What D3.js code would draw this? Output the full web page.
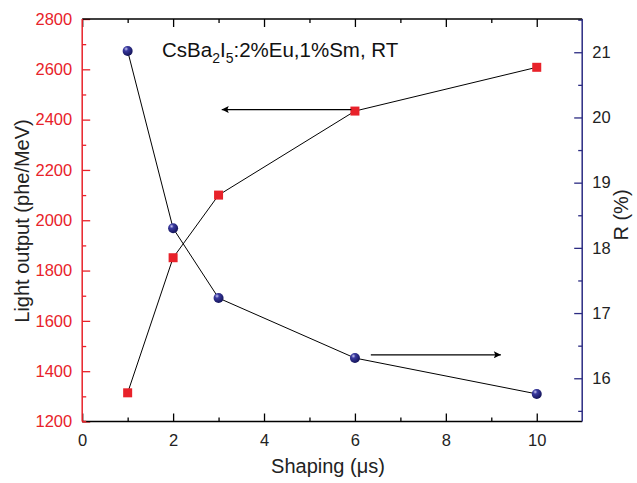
<!DOCTYPE html>
<html><head><meta charset="utf-8">
<script src="https://cdn.jsdelivr.net/npm/d3@7"></script>
<style>body{margin:0;background:#fff}svg{display:block}text{font-family:Arial,"Liberation Sans",sans-serif}</style>
</head><body><svg id="c" width="637" height="483"></svg>
<script>
const shaping = [1, 2, 3, 6, 10];
const lightOutput = [1314, 1851, 2100, 2434, 2608];
const resolution = [21.02, 18.30, 17.23, 16.31, 15.76];
const xTicks = [0, 2, 4, 6, 8, 10];
const xMinor = [1, 3, 5, 7, 9];
const yLTicks = [1200, 1400, 1600, 1800, 2000, 2200, 2400, 2600, 2800];
const yLMinor = [1300, 1500, 1700, 1900, 2100, 2300, 2500, 2700];
const yRTicks = [16, 17, 18, 19, 20, 21];
const yRMinor = [15.5, 16.5, 17.5, 18.5, 19.5, 20.5, 21.5];
const arrowLeft = {x1: 5.92, x2: 3.07, y: 2440};
const arrowRight = {x1: 6.35, x2: 9.21, y: 16.36};

const svg = d3.select('#c');
const L = 82.2, R = 582.2, T = 19, B = 421.5;
const red = '#e8222a', navy = '#2b2b82';
const x = d3.scaleLinear().domain([0, 11]).range([L, R]);
const yL = d3.scaleLinear().domain([1200, 2800]).range([B, T]);
const yR = d3.scaleLinear().domain([15.337, 21.51]).range([B, T]);

const defs = svg.append('defs');
const g = defs.append('radialGradient').attr('id','ball').attr('cx','0.35').attr('cy','0.3').attr('r','0.7');
g.append('stop').attr('offset','0').attr('stop-color','#c8c8f0');
g.append('stop').attr('offset','0.3').attr('stop-color','#3a3aa0');
g.append('stop').attr('offset','1').attr('stop-color','#14145a');
defs.append('marker').attr('id','ah').attr('viewBox','0 0 10 10').attr('refX',10).attr('refY',5)
  .attr('markerWidth',18).attr('markerHeight',7).attr('markerUnits','userSpaceOnUse').attr('orient','auto')
  .append('path').attr('d','M0,0 L10,5 L0,10 L2,5 Z').attr('fill','#000');

function styleAxis(sel, color, textColor){
  sel.select('.domain').remove();
  sel.selectAll('line').attr('stroke', color).attr('stroke-width',1.3);
  sel.selectAll('text').attr('fill', textColor).style('font-size','16.5px').style('font-family','Arial,"Liberation Sans",sans-serif');
}
const ax = svg.append('g').attr('transform',`translate(0,${B})`)
  .call(d3.axisBottom(x).tickValues(xTicks).tickSize(-8).tickPadding(13).tickFormat(d3.format('d')));
styleAxis(ax,'#000','#222');
svg.append('g').attr('transform',`translate(0,${B})`)
  .call(d3.axisBottom(x).tickValues(xMinor).tickSize(-4).tickFormat('')).call(s=>styleAxis(s,'#000','#000'));
svg.append('g').attr('transform',`translate(0,${T})`)
  .call(d3.axisTop(x).tickValues(xTicks).tickSize(-8).tickFormat('')).call(s=>styleAxis(s,'#000','#000'));
svg.append('g').attr('transform',`translate(0,${T})`)
  .call(d3.axisTop(x).tickValues(xMinor).tickSize(-4).tickFormat('')).call(s=>styleAxis(s,'#000','#000'));

const al = svg.append('g').attr('transform',`translate(${L},0)`)
  .call(d3.axisLeft(yL).tickValues(yLTicks).tickSize(-8).tickPadding(10).tickFormat(d3.format('d')));
styleAxis(al, red, red);
svg.append('g').attr('transform',`translate(${L},0)`)
  .call(d3.axisLeft(yL).tickValues(yLMinor).tickSize(-4).tickFormat('')).call(s=>styleAxis(s,red,red));

const ar = svg.append('g').attr('transform',`translate(${R},0)`)
  .call(d3.axisRight(yR).tickValues(yRTicks).tickSize(-8).tickPadding(10).tickFormat(d3.format('d')));
styleAxis(ar, navy, '#222');
svg.append('g').attr('transform',`translate(${R},0)`)
  .call(d3.axisRight(yR).tickValues(yRMinor).tickSize(-4).tickFormat('')).call(s=>styleAxis(s,navy,navy));

svg.append('line').attr('x1',L).attr('x2',R).attr('y1',T).attr('y2',T).attr('stroke','#000').attr('stroke-width',1.5);
svg.append('line').attr('x1',L).attr('x2',R).attr('y1',B).attr('y2',B).attr('stroke','#000').attr('stroke-width',1.5);
svg.append('line').attr('x1',L).attr('x2',L).attr('y1',T).attr('y2',B).attr('stroke',red).attr('stroke-width',1.5);
svg.append('line').attr('x1',R).attr('x2',R).attr('y1',T).attr('y2',B).attr('stroke',navy).attr('stroke-width',1.5);
svg.append('line').attr('x1',L).attr('x2',L+4).attr('y1',B).attr('y2',B).attr('stroke',red).attr('stroke-width',1.5);

const lineL = d3.line().x((d,i)=>x(shaping[i])).y(d=>yL(d));
const lineR = d3.line().x((d,i)=>x(shaping[i])).y(d=>yR(d));
svg.append('path').attr('d',lineL(lightOutput)).attr('fill','none').attr('stroke','#000').attr('stroke-width',1);
svg.append('path').attr('d',lineR(resolution)).attr('fill','none').attr('stroke','#000').attr('stroke-width',1);

svg.selectAll('rect.pt').data(lightOutput).join('rect').attr('class','pt')
  .attr('x',(d,i)=>x(shaping[i])-4.5).attr('y',d=>yL(d)-4.5).attr('width',9).attr('height',9).attr('fill',red);
svg.selectAll('circle.pt').data(resolution).join('circle').attr('class','pt')
  .attr('cx',(d,i)=>x(shaping[i])).attr('cy',d=>yR(d)).attr('r',5).attr('fill','url(#ball)');

svg.append('line').attr('x1',x(arrowLeft.x1)).attr('x2',x(arrowLeft.x2)).attr('y1',yL(arrowLeft.y)).attr('y2',yL(arrowLeft.y))
  .attr('stroke','#000').attr('stroke-width',1.2).attr('marker-end','url(#ah)');
svg.append('line').attr('x1',x(arrowRight.x1)).attr('x2',x(arrowRight.x2)).attr('y1',yR(arrowRight.y)).attr('y2',yR(arrowRight.y))
  .attr('stroke','#000').attr('stroke-width',1.2).attr('marker-end','url(#ah)');

const t = svg.append('text').attr('x',162).attr('y',57).attr('fill','#111').style('font-size','20.5px');
t.append('tspan').text('CsBa');
t.append('tspan').text('2').style('font-size','14px').attr('dy',6);
t.append('tspan').text('I').attr('dy',-6);
t.append('tspan').text('5').style('font-size','14px').attr('dy',6);
t.append('tspan').text(':2%Eu,1%Sm, RT').attr('dy',-6);

svg.append('text').attr('x',328).attr('y',473).attr('text-anchor','middle').attr('fill','#222').style('font-size','20px').text('Shaping (\u03bcs)');
svg.append('text').attr('transform','translate(29,221) rotate(-90)').attr('text-anchor','middle').attr('fill','#222').style('font-size','20px').text('Light output (phe/MeV)');
svg.append('text').attr('transform','translate(628,215) rotate(-90)').attr('text-anchor','middle').attr('fill','#222').style('font-size','20px').text('R (%)');
</script></body></html>
